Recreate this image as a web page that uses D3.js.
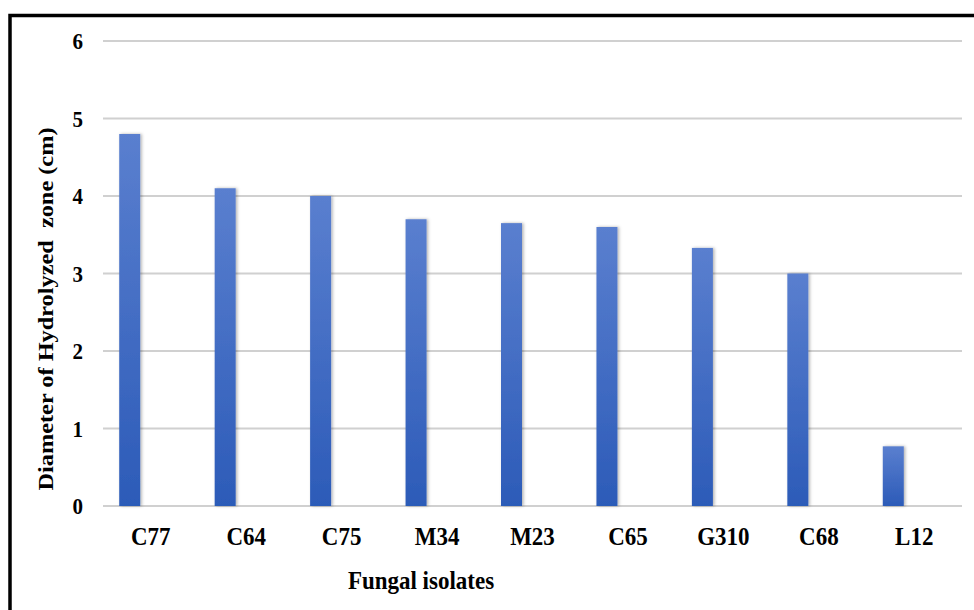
<!DOCTYPE html>
<html><head><meta charset="utf-8">
<script src="https://cdn.jsdelivr.net/npm/d3@7/dist/d3.min.js"></script>
<style>body{margin:0;background:#fff;} svg{display:block;}</style>
</head><body>
<svg id="c" width="974" height="610"></svg>
<script>
const categories = ["C77","C64","C75","M34","M23","C65","G310","C68","L12"];
const values = [4.8,4.1,4.0,3.7,3.65,3.6,3.33,3.0,0.77];
const yTicks = [0,1,2,3,4,5,6];
const yTitle = "Diameter of Hydrolyzed\u00a0 zone (cm)";
const xTitle = "Fungal isolates";

const svg = d3.select("#c");
const font = "'Liberation Serif','Times New Roman',serif";
const defs = svg.append("defs");
const g1 = defs.append("linearGradient").attr("id","bg").attr("x1",0).attr("y1",0).attr("x2",0).attr("y2",1);
g1.append("stop").attr("offset","0%").attr("stop-color","#5a7fcf");
g1.append("stop").attr("offset","100%").attr("stop-color","#2c5bb8");
const f = defs.append("filter").attr("id","sh").attr("x","-50%").attr("y","-10%").attr("width","200%").attr("height","120%");
f.append("feDropShadow").attr("dx",1.5).attr("dy",0).attr("stdDeviation",1.6).attr("flood-color","#000").attr("flood-opacity",0.3);

// border (left & top visible)
svg.append("rect").attr("x",10).attr("y",15.5).attr("width",1000).attr("height",700)
  .attr("fill","none").attr("stroke","#000").attr("stroke-width",3.5);

const x = d3.scaleBand().domain(categories).range([103,962]).padding(0);
const y = d3.scaleLinear().domain([0,6]).range([506,41]);

// gridlines
svg.append("g").selectAll("line").data(yTicks).join("line")
  .attr("x1",103).attr("x2",962).attr("y1",d=>y(d)).attr("y2",d=>y(d))
  .attr("stroke","#d0d0d0").attr("stroke-width",2);

const yAxis = d3.axisLeft(y).tickValues(yTicks).tickSize(0).tickPadding(0).tickFormat(d3.format("d"));
const ya = svg.append("g").attr("transform","translate(83,0)").call(yAxis);
ya.select(".domain").remove();
ya.selectAll("text").attr("font-family",font).attr("font-weight","bold").attr("font-size",21).attr("fill","#000")
  .attr("dy","0.35em").attr("transform","scale(1,1.1)").attr("y",function(){return 0;});
ya.selectAll(".tick").each(function(d){ d3.select(this).attr("transform",`translate(0,${y(d)})`); });

// bars
const bw = x.bandwidth();
svg.append("g").selectAll("rect").data(categories).join("rect")
  .attr("x",(d)=>x(d)+bw*0.17).attr("width",bw*0.22)
  .attr("y",(d,i)=>y(values[i])).attr("height",(d,i)=>y(0)-y(values[i]))
  .attr("fill","url(#bg)").attr("filter","url(#sh)");

const xAxis = d3.axisBottom(x).tickSize(0).tickPadding(0);
const xa = svg.append("g").attr("transform","translate(0,536)").call(xAxis);
xa.select(".domain").remove();
xa.selectAll("text").attr("font-family",font).attr("font-weight","bold").attr("font-size",23).attr("fill","#000")
  .attr("y",0).attr("dy","0.35em").attr("transform","scale(1,1.1)");

svg.append("text").attr("transform","translate(421,580) scale(1,1.1)").attr("dy","0.35em").attr("text-anchor","middle")
  .attr("font-family",font).attr("font-weight","bold").attr("font-size",23).text(xTitle);
svg.append("text").attr("transform","translate(45,309) rotate(-90)").attr("dy","0.35em").attr("text-anchor","middle")
  .attr("font-family",font).attr("font-weight","bold").attr("font-size",22)
  .attr("textLength",363).attr("lengthAdjust","spacingAndGlyphs").style("white-space","pre").text(yTitle);
</script>
</body></html>
